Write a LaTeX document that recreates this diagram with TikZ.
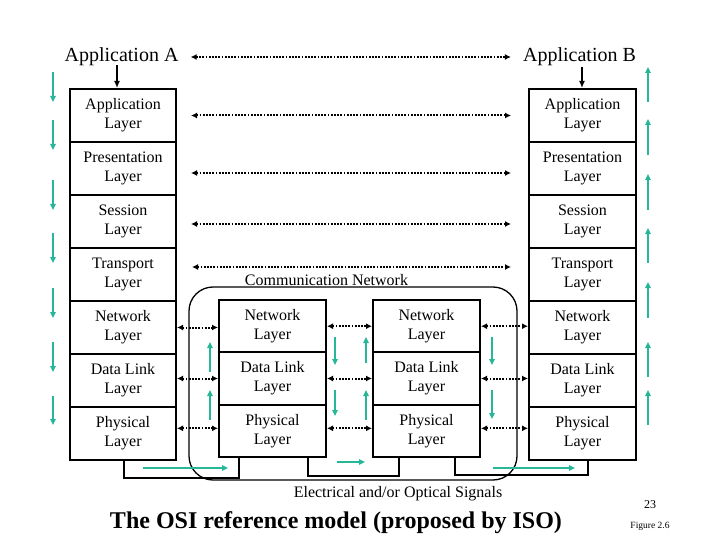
\documentclass[tikz,border=0pt]{standalone}
\usepackage{fontspec}
\setmainfont{Liberation Serif}
\usetikzlibrary{arrows.meta}
\definecolor{teal1}{RGB}{38,182,152}
\begin{document}
\begin{tikzpicture}[x=1pt,y=-1pt,
  layer/.style={draw, line width=2pt, minimum width=106pt, minimum height=53pt, align=center, inner sep=0pt, font=\fontsize{16}{19}\selectfont},
  rlayer/.style={layer, minimum width=107pt, minimum height=52.33pt},
  lbl/.style={inner sep=0pt, font=\fontsize{16}{19}\selectfont},
  dotarr/.style={line width=2pt, dash pattern=on 1.8pt off 1.4pt, {Latex[length=6pt,width=6pt]}-{Latex[length=6pt,width=6pt]}},
  blackarr/.style={line width=2pt, -{Latex[length=7pt,width=6pt]}},
  flow/.style={draw=teal1, line width=2pt, -{Triangle[length=6pt,width=5.5pt]}},
  wire/.style={line width=1.8pt},
]
\useasboundingbox (0,0) rectangle (720,540);

% communication network rounded box
\node[draw, line width=1.3pt, rounded corners=24pt, minimum width=328pt, minimum height=193pt, inner sep=0pt] (cn) at (353,383.5) {};
\node[lbl, anchor=base] (cnlab) at (326.5,285) {Communication Network};

% applications
\node[inner sep=0pt, font=\fontsize{20}{24}\selectfont] (appA) at (121.5,57) {Application A};
\node[inner sep=0pt, font=\fontsize{20}{24}\selectfont] (appB) at (579.5,57) {Application B};

% left stack
\node[layer] (L1) at (123,115.5) {Application\\Layer};
\node[layer] (L2) at (123,168.5) {Presentation\\Layer};
\node[layer] (L3) at (123,221.5) {Session\\Layer};
\node[layer] (L4) at (123,274.5) {Transport\\Layer};
\node[layer] (L5) at (123,327.5) {Network\\Layer};
\node[layer] (L6) at (123,380.5) {Data Link\\Layer};
\node[layer] (L7) at (123,433.5) {Physical\\Layer};

% right stack
\node[layer, minimum width=107pt] (R1) at (582.5,115.5) {Application\\Layer};
\node[layer, minimum width=107pt] (R2) at (582.5,168.5) {Presentation\\Layer};
\node[layer, minimum width=107pt] (R3) at (582.5,221.5) {Session\\Layer};
\node[layer, minimum width=107pt] (R4) at (582.5,274.5) {Transport\\Layer};
\node[layer, minimum width=107pt] (R5) at (582.5,327.5) {Network\\Layer};
\node[layer, minimum width=107pt] (R6) at (582.5,380.5) {Data Link\\Layer};
\node[layer, minimum width=107pt] (R7) at (582.5,433.5) {Physical\\Layer};

% routers
\node[rlayer] (N1) at (272.5,326.2) {Network\\Layer};
\node[rlayer] (D1) at (272.5,378.5) {Data Link\\Layer};
\node[rlayer] (P1) at (272.5,430.8) {Physical\\Layer};
\node[rlayer] (N2) at (426.5,326.2) {Network\\Layer};
\node[rlayer] (D2) at (426.5,378.5) {Data Link\\Layer};
\node[rlayer] (P2) at (426.5,430.8) {Physical\\Layer};

% dotted peer arrows
\draw[dotarr] ([xshift=12pt]appA.east) -- ([xshift=-12pt]appB.west);
\draw[dotarr] ([xshift=14pt]L1.east) -- ([xshift=-17pt]R1.west);
\draw[dotarr] ([xshift=14pt,yshift=-4.5pt]L2.east) -- ([xshift=-17pt,yshift=-4.5pt]R2.west);
\draw[dotarr] ([xshift=14pt,yshift=-2.5pt]L3.east) -- ([xshift=-17pt,yshift=-2.5pt]R3.west);
\draw[dotarr] ([xshift=15pt,yshift=7.5pt]L4.east) -- ([xshift=-17pt,yshift=7.5pt]R4.west);

\draw[dotarr] (L5.east) -- (L5.east -| N1.west);
\draw[dotarr] (N1.east) -- (N1.east -| N2.west);
\draw[dotarr] (N2.east) -- (N2.east -| R5.west);
\draw[dotarr] (D1.west -| L6.east) -- (D1.west);
\draw[dotarr] (D1.east) -- (D2.west);
\draw[dotarr] (D2.east) -- (D2.east -| R6.west);
\coordinate (py1) at ([yshift=2.5pt]P1.west);
\coordinate (py2) at ([yshift=2.5pt]P1.east);
\coordinate (py3) at ([yshift=2.5pt]P2.east);
\draw[dotarr] (py1 -| L7.east) -- (py1);
\draw[dotarr] (py2) -- (py2 -| P2.west);
\draw[dotarr] (py3) -- (py3 -| R7.west);

% application to layer arrows
\coordinate (aAs) at (117,65);
\coordinate (aBs) at (582,67);
\draw[blackarr] (aAs) -- (aAs |- L1.north);
\draw[blackarr] (aBs) -- (aBs |- R1.north);

% physical wires
\draw[wire] ([xshift=1pt]L7.south) -- ++(0,17) -| ([xshift=-33.5pt]P1.south);
\draw[wire] ([xshift=35.5pt]P1.south) -- ++(0,18) -| ([xshift=-27.5pt]P2.south);
\draw[wire] ([xshift=28.5pt]P2.south) -- ++(0,17) -| ([xshift=5.5pt]R7.south);

% teal flow arrows
\foreach \a/\b in {72/102,120/150,180/210,233/263,288/318,342/372,396/425}
  \draw[flow] (53,\a) -- (53,\b);
\foreach \a/\b in {102/67,155/119,210/174,263/228,318/282,377/342,425/390}
  \draw[flow] (648,\a) -- (648,\b);
\draw[flow] (210,372) -- (210,342);
\draw[flow] (210,420) -- (210,390);
\draw[flow] (335,337) -- (335,365);
\draw[flow] (335,390) -- (335,416);
\draw[flow] (366,363) -- (366,337);
\draw[flow] (366,420) -- (366,390);
\draw[flow] (492,337) -- (492,365);
\draw[flow] (492,390) -- (492,419);
\draw[flow] (143,468) -- (228,468);
\draw[flow] (337,462) -- (365,462);
\draw[flow] (493,468) -- (575,468);

% bottom texts
\node[lbl] (sig) at (398,494) {Electrical and/or Optical Signals};
\node[inner sep=0pt, font=\bfseries\fontsize{24}{28}\selectfont] (title) at (336,523) {The OSI reference model (proposed by ISO)};
\node[inner sep=0pt, font=\fontsize{12}{14}\selectfont] (pg) at (650,505) {23};
\node[inner sep=0pt, font=\fontsize{9.5}{11}\selectfont] (fig) at (650,526) {Figure 2.6};
\end{tikzpicture}
\end{document}
